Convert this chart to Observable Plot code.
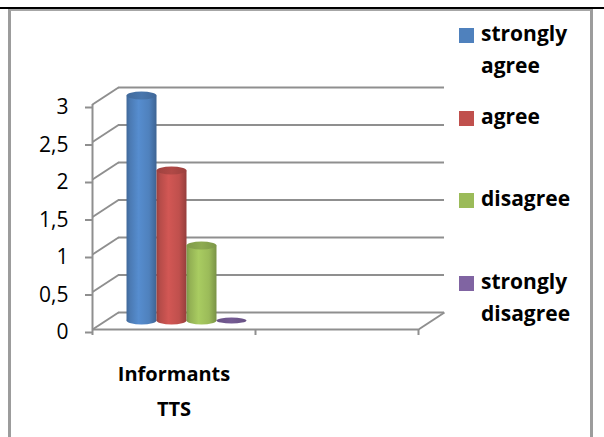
<!DOCTYPE html>
<html>
<head>
<meta charset="utf-8">
<script src="https://cdn.jsdelivr.net/npm/d3@7"></script>
<script src="https://cdn.jsdelivr.net/npm/@observablehq/plot@0.6"></script>
<style>
  html, body { margin: 0; padding: 0; background: #fff; }
  #wrap { position: relative; width: 604px; height: 437px; overflow: hidden; font-family: "Open Sans", sans-serif; }
  #topline { position: absolute; left: 0; top: 7px; width: 604px; height: 2px; background: #000; }
  #frame { position: absolute; left: 8px; top: 9px; width: 579px; height: 440px;
           border-left: 3px solid #9c9c9c; border-right: 3px solid #9c9c9c; border-top: 2px solid #a6a6a6; }
  #chart { position: absolute; left: 0; top: 0; }
  .legend-item { position: absolute; left: 459px; font-weight: 700; font-size: 21px; line-height: 32px; color: #000; }
  .legend-item .sw { position: absolute; left: 0; width: 15px; height: 15px; }
  .legend-item .tx { position: absolute; left: 22px; white-space: nowrap; }
</style>
</head>
<body>
<div id="wrap">
  <div id="topline"></div>
  <div id="frame"></div>
  <div id="chart"></div>
</div>
<script>
// Survey answers for the single category
const categories = ["Informants TTS"];
const series = ["strongly agree", "agree", "disagree", "strongly disagree"];
const legendLines = [["strongly", "agree"], ["agree"], ["disagree"], ["strongly", "disagree"]];
const values = [3, 2, 1, 0];
const colors = ["#4F81BD", "#C0504D", "#9BBB59", "#8064A2"];
const yTicks = [0, 0.5, 1, 1.5, 2, 2.5, 3];
const xSlots = [0, 1, 2]; // category slot boundaries (one filled slot, one empty)

// Layout
const W = 604, H = 437;
const mTop = 104, mLeft = 92, mRight = 186, mBottom = 108;
const plotW = W - mLeft - mRight, plotH = H - mTop - mBottom;
const depthPx = [26, -17];                       // 3D depth of the walls
const depthX = depthPx[0] / plotW * 2;          // in x data units
const depthY = -depthPx[1] / plotH * 3;         // in y data units
const grid = "#8f8f8f";

// Cylinder geometry (in x data units, front plane)
const barW = 0.184;
const barStart = 0.5 - 2 * barW;
const capHalf = 4 / plotH * 3;                  // half-height of the elliptical cap in y units

const bars = series.map((s, i) => ({
  series: s, value: values[i], x1: barStart + i * barW, x2: barStart + (i + 1) * barW
}));

const comma = d => String(d).replace(".", ",");

const marks = [
  // back wall gridlines
  Plot.ruleY(yTicks, {y: d => d, x1: 0, x2: 2, dx: depthPx[0], dy: depthPx[1], stroke: grid, strokeWidth: 2}),
  // side wall diagonals
  Plot.link(yTicks, {x1: 0, y1: d => d, x2: depthX, y2: d => d + depthY, stroke: grid, strokeWidth: 2}),
  // floor: front edge and right edge
  Plot.ruleY([0], {x1: 0, x2: 2, stroke: grid, strokeWidth: 2}),
  Plot.link([0], {x1: 2, y1: 0, x2: 2 + depthX, y2: depthY, stroke: grid, strokeWidth: 2}),
  // vertical axis line
  Plot.ruleX([0], {y1: 0, y2: 3, stroke: grid, strokeWidth: 2}),
  Plot.axisY({ticks: yTicks, tickSize: 7, tickPadding: 17, tickFormat: comma, fontSize: 21, dy: 3,
              stroke: grid, strokeWidth: 2, label: null, fill: "#000"}),
  Plot.axisX({ticks: xSlots, tickSize: 6, tickFormat: () => "", stroke: grid, strokeWidth: 2, label: null}),
  // category label
  Plot.text(categories, {x: 0.5, y: 0, text: d => d.replace(" ", "\n"), dy: 58, fontSize: 20,
                         fontWeight: 700, lineHeight: 1.75, fill: "#000"})
];

// cylinders, drawn halfway into the depth of the chart
bars.forEach((b, i) => {
  const opts = {dx: depthPx[0] / 2, dy: depthPx[1] / 2};
  const rx = (b.x2 - b.x1) / 2 * plotW / 2;
  if (b.value > 0) {
    marks.push(Plot.rect([b], {x1: "x1", x2: "x2", y1: -capHalf, y2: capHalf, rx, ry: 4,
                               fill: `url(#body-${i})`, ...opts}));
    marks.push(Plot.rect([b], {x1: "x1", x2: "x2", y1: 0, y2: "value", fill: `url(#body-${i})`, ...opts}));
  }
  const k = b.value > 0 ? 1 : 0.75;
  marks.push(Plot.rect([b], {x1: "x1", x2: "x2", y1: d => d.value - capHalf * k, y2: d => d.value + capHalf * k,
                             rx, ry: 4, fill: `url(#top-${i})`, ...opts}));
});

const chart = Plot.plot({
  width: W, height: H,
  marginTop: mTop, marginLeft: mLeft, marginRight: mRight, marginBottom: mBottom,
  style: {fontFamily: "'Open Sans', sans-serif", background: "transparent", overflow: "visible"},
  x: {domain: [0, 2]},
  y: {domain: [0, 3]},
  marks
});

// gradients for the cylinder shading
const defs = d3.select(chart).insert("defs", ":first-child");
colors.forEach((c, i) => {
  const base = d3.color(c);
  const g = defs.append("linearGradient").attr("id", `body-${i}`).attr("x1", 0).attr("x2", 1).attr("y1", 0).attr("y2", 0);
  [[0, base.darker(0.6)], [0.12, base.darker(0.15)], [0.4, base.brighter(0.25)], [0.75, base], [1, base.darker(0.7)]]
    .forEach(([o, col]) => g.append("stop").attr("offset", o).attr("stop-color", col.formatHex()));
  const t = defs.append("linearGradient").attr("id", `top-${i}`).attr("x1", 0).attr("x2", 1).attr("y1", 0).attr("y2", 0);
  [[0, base.darker(0.55)], [0.5, base.darker(0.25)], [1, base.darker(0.6)]]
    .forEach(([o, col]) => t.append("stop").attr("offset", o).attr("stop-color", col.formatHex()));
});

document.getElementById("chart").appendChild(chart);

// legend
const legendTops = [17, 100, 182, 265];
const wrap = d3.select("#wrap");
series.forEach((s, i) => {
  const item = wrap.append("div").attr("class", "legend-item").style("top", legendTops[i] + "px");
  item.append("div").attr("class", "sw").style("top", "11px").style("background", colors[i]);
  item.append("div").attr("class", "tx").html(legendLines[i].join("<br>"));
});
</script>
</body>
</html>
